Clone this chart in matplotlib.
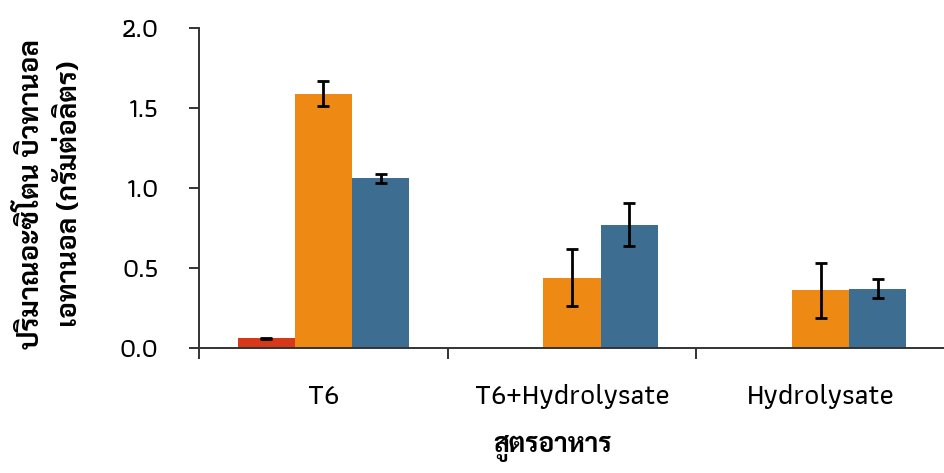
import numpy as np
import matplotlib
matplotlib.use("Agg")
import matplotlib.pyplot as plt

# สูตรอาหาร และค่าเฉลี่ย (กรัมต่อลิตร) ของแต่ละผลิตภัณฑ์
formulas = ["T6", "T6+Hydrolysate", "Hydrolysate"]
acetone = [0.06, np.nan, np.nan]
acetone_err = [0.005, np.nan, np.nan]
butanol = [1.59, 0.44, 0.36]
butanol_err = [0.08, 0.18, 0.17]
ethanol = [1.06, 0.77, 0.37]
ethanol_err = [0.03, 0.135, 0.06]

colors = ["#D8381A", "#EE8A14", "#3D6E91"]
thai_font = ["Sarabun", "DejaVu Sans"]
tick_font = ["Athiti", "DejaVu Sans"]

fig = plt.figure(figsize=(9.45, 4.73), dpi=100)
ax = fig.add_axes([199 / 945, 1 - 348 / 473, 746 / 945, 320 / 473])

x = np.arange(len(formulas)) + 0.5
w = 0.23
series = [(acetone, acetone_err), (butanol, butanol_err), (ethanol, ethanol_err)]
for k, (vals, errs) in enumerate(series):
    pos = x + (k - 1) * w
    ax.bar(pos, vals, width=w, color=colors[k], zorder=2)
    ax.errorbar(pos, vals, yerr=errs, fmt="none", ecolor="black",
                elinewidth=2, capsize=4.5, capthick=2, zorder=3)

ax.set_xlim(0, 3)
ax.set_ylim(0, 2.0)
ax.set_yticks([0, 0.5, 1.0, 1.5, 2.0])
ax.set_yticklabels(["0.0", "0.5", "1.0", "1.5", "2.0"], family=tick_font,
                   fontweight="medium", fontsize=19)
ax.set_xticks([0, 1, 2, 3])
ax.set_xticklabels([])
ax.set_xticks(x, minor=True)
ax.set_xticklabels(formulas, minor=True, family=tick_font,
                   fontweight="medium", fontsize=21)

for s in ["top", "right"]:
    ax.spines[s].set_visible(False)
for s in ["left", "bottom"]:
    ax.spines[s].set_color("#333333")
    ax.spines[s].set_linewidth(1.4)

ax.tick_params(axis="y", which="major", length=7, width=1.4, color="#333333", pad=22)
ax.tick_params(axis="x", which="major", length=8, width=1.4, color="#333333")
ax.tick_params(axis="x", which="minor", length=0, pad=26)

fig.text(553 / 945, 1 - 448 / 473, "สูตรอาหาร", family=thai_font, fontweight="bold",
         fontsize=19, ha="center", va="center")
fig.text(50 / 945, 1 - 194 / 473, "ปริมาณอะซิโตน บิวทานอล\nเอทานอล (กรัมต่อลิตร)",
         family=thai_font, fontweight="bold", fontsize=20, rotation=90,
         ha="center", va="center", multialignment="center", linespacing=1.55)

fig.savefig("out.png", dpi=100)
